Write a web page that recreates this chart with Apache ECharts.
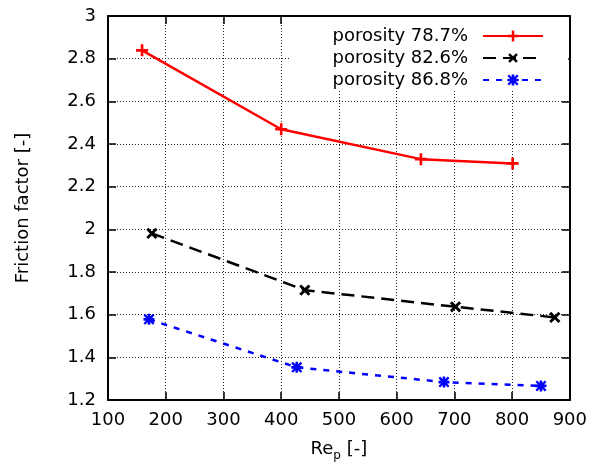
<!DOCTYPE html>
<html>
<head>
<meta charset="utf-8">
<script src="https://cdn.jsdelivr.net/npm/echarts@6/dist/echarts.min.js"></script>
<style>
html,body{margin:0;padding:0;background:#fff;}
#chart{width:590px;height:469px;}
</style>
</head>
<body>
<div id="chart"></div>
<script>
// Data
const seriesNames = ['porosity 78.7%', 'porosity 82.6%', 'porosity 86.8%'];
const re787 = [159, 400, 642, 801];
const f787  = [2.839, 2.469, 2.329, 2.309];
const re826 = [176, 441, 702, 874];
const f826  = [1.981, 1.715, 1.637, 1.587];
const re868 = [171, 427, 682, 850];
const f868  = [1.578, 1.353, 1.284, 1.266];
const xTicks = [100, 200, 300, 400, 500, 600, 700, 800, 900];
const yTicks = [1.2, 1.4, 1.6, 1.8, 2, 2.2, 2.4, 2.6, 2.8, 3];

const FONT = 'DejaVu Sans';
const pair = (xs, ys) => xs.map((x, i) => [x, ys[i]]);

const plusPath = 'path://M3.9,0H6.1V3.9H10V6.1H6.1V10H3.9V6.1H0V3.9H3.9Z';
const starPath = 'path://M3.8,0H6.2V3.8H10V6.2H6.2V10H3.8V6.2H0V3.8H3.8Z' +
  'M0,1.5L1.5,0L10,8.5L8.5,10Z M8.5,0L10,1.5L1.5,10L0,8.5Z';

const chart = echarts.init(document.getElementById('chart'), null, {renderer: 'canvas'});

const axisLine = {show: true, onZero: false, lineStyle: {color: '#000', width: 2}};
const axisTick = {show: true, inside: true, length: 8, lineStyle: {color: '#000', width: 1.5}};
const gridLine = {show: true, lineStyle: {color: '#222', type: [1, 2], width: 1}};

const option = {
  backgroundColor: '#fff',
  animation: false,
  textStyle: {fontFamily: FONT},
  grid: {left: 108, right: 20, top: 16, bottom: 69, containLabel: false},
  legend: {
    data: seriesNames,
    orient: 'vertical',
    align: 'right',
    right: 22,
    top: 17,
    padding: [10, 24, 2, 43],
    backgroundColor: '#fff',
    itemWidth: 60,
    itemHeight: 14,
    itemGap: 4,
    textStyle: {fontFamily: FONT, fontSize: 18, color: '#000', lineHeight: 18, padding: [0, 10, 0, 0]},
    z: 10
  },
  xAxis: [{
    type: 'value', position: 'bottom', min: xTicks[0], max: xTicks[xTicks.length - 1], interval: 100,
    axisLine: axisLine, axisTick: axisTick, splitLine: gridLine,
    axisLabel: {color: '#000', fontFamily: FONT, fontSize: 18, margin: 11},
    name: '{a|Re}{sub|p}{a| [-]}', nameLocation: 'middle', nameGap: 40,
    nameTextStyle: {
      color: '#000',
      rich: {
        a: {fontFamily: FONT, fontSize: 18, color: '#000', lineHeight: 20, verticalAlign: 'top'},
        sub: {fontFamily: FONT, fontSize: 12, color: '#000', lineHeight: 12, verticalAlign: 'top', padding: [10, 0, 0, 0]}
      }
    }
  }, {
    type: 'value', position: 'top', min: xTicks[0], max: xTicks[xTicks.length - 1], interval: 100,
    axisLine: axisLine, axisTick: axisTick, splitLine: {show: false}, axisLabel: {show: false}
  }],
  yAxis: [{
    type: 'value', position: 'left', min: yTicks[0], max: yTicks[yTicks.length - 1], interval: 0.2,
    axisLine: axisLine, axisTick: axisTick, splitLine: gridLine,
    axisLabel: {color: '#000', fontFamily: FONT, fontSize: 18, margin: 12},
    name: 'Friction factor [-]', nameLocation: 'middle', nameGap: 76,
    nameTextStyle: {color: '#000', fontFamily: FONT, fontSize: 18}
  }, {
    type: 'value', position: 'right', min: yTicks[0], max: yTicks[yTicks.length - 1], interval: 0.2,
    axisLine: axisLine, axisTick: axisTick, splitLine: {show: false}, axisLabel: {show: false}
  }],
  series: [{
    name: seriesNames[0], type: 'line', data: pair(re787, f787),
    symbol: plusPath, symbolSize: 12,
    itemStyle: {color: '#ff0000'},
    lineStyle: {color: '#ff0000', width: 2.5, type: 'solid'}, z: 3
  }, {
    name: seriesNames[1], type: 'line', data: pair(re826, f826),
    symbol: plusPath, symbolSize: 13, symbolRotate: 45,
    itemStyle: {color: '#000000'},
    lineStyle: {color: '#000000', width: 2.5, type: [13, 7]}, z: 3
  }, {
    name: seriesNames[2], type: 'line', data: pair(re868, f868),
    symbol: starPath, symbolSize: 11,
    itemStyle: {color: '#0000ff'},
    lineStyle: {color: '#0000ff', width: 2.5, type: [6, 7]}, z: 3
  }]
};
chart.setOption(option);
</script>
</body>
</html>
